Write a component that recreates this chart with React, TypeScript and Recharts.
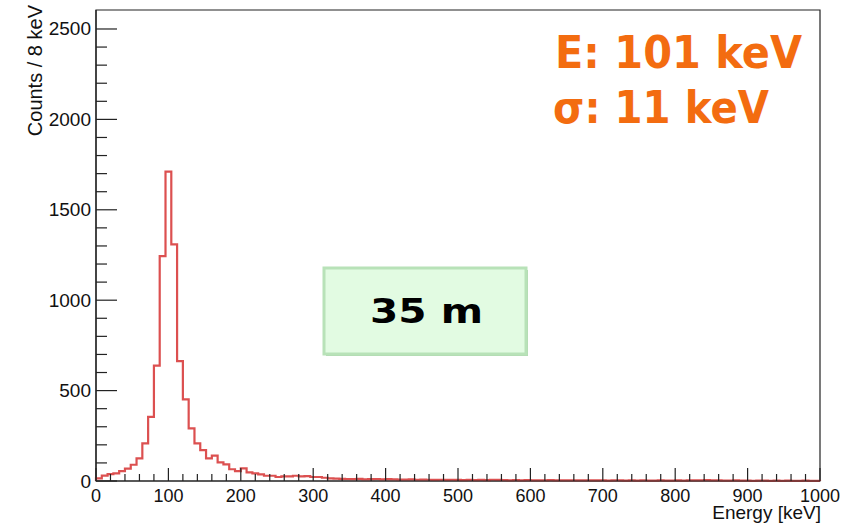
import { LineChart, Line, XAxis, YAxis, ReferenceArea } from "recharts";

// counts per 8 keV bin, 0..1000 keV (125 bins)
const counts: number[] = [
  15, 30, 38, 42, 55, 68, 90, 125, 208, 355,
  638, 1244, 1711, 1309, 663, 452, 291, 208, 171, 125,
  140, 103, 92, 65, 55, 70, 48, 42, 37, 29,
  29, 22, 26, 26, 29, 26, 27, 22, 22, 18,
  15, 13, 12, 11, 10, 12, 9, 10, 11, 9,
  10, 9, 8, 8, 9, 7, 8, 7, 6, 7,
  6, 7, 6, 5, 6, 5, 6, 5, 7, 6,
  5, 4, 5, 4, 5, 4, 3, 4, 5, 4,
  3, 4, 3, 4, 3, 3, 4, 3, 2, 3,
  3, 2, 3, 2, 3, 2, 2, 3, 2, 2,
  3, 2, 3, 4, 3, 5, 4, 3, 2, 2,
  3, 2, 2, 1, 2, 2, 1, 2, 1, 2,
  1, 1, 2, 1, 1,
];
const binWidth = 8;

const xTicks = [
  0, 20, 40, 60, 80, 100, 120, 140, 160, 180, 200, 220, 240, 260, 280, 300,
  320, 340, 360, 380, 400, 420, 440, 460, 480, 500, 520, 540, 560, 580, 600,
  620, 640, 660, 680, 700, 720, 740, 760, 780, 800, 820, 840, 860, 880, 900,
  920, 940, 960, 980, 1000,
];
const yTicks = [
  0, 100, 200, 300, 400, 500, 600, 700, 800, 900, 1000, 1100, 1200, 1300,
  1400, 1500, 1600, 1700, 1800, 1900, 2000, 2100, 2200, 2300, 2400, 2500,
];
const yMax = 2605;

const fitLines = ["E: 101 keV", "σ: 11 keV"];
const distanceLabel = "35 m";

// step-line points: rise from 0 at the first edge, drop to 0 at the last
const data = [
  { x: 0, y: 0 },
  ...counts.map((c, i) => ({ x: i * binWidth, y: c })),
  { x: counts.length * binWidth, y: counts[counts.length - 1] },
  { x: counts.length * binWidth, y: 0 },
];

const font = "'Liberation Sans', Arial, sans-serif";

function XTick(props: any) {
  const { x, y, payload } = props;
  const major = payload.value % 100 === 0;
  return (
    <g>
      <line x1={x} x2={x} y1={y} y2={y - (major ? 13 : 7)} stroke="#222" strokeWidth={1.2} />
      {major && (
        <text x={x} y={y + 21} textAnchor="middle" fontFamily={font} fontSize={18} fill="#111">
          {payload.value}
        </text>
      )}
    </g>
  );
}

function YTick(props: any) {
  const { x, y, payload } = props;
  const major = payload.value % 500 === 0;
  return (
    <g>
      <line x1={x} x2={x + (major ? 21 : 11)} y1={y} y2={y} stroke="#222" strokeWidth={1.2} />
      {major && (
        <text x={x - 5} y={y + 6.5} textAnchor="end" fontFamily={font} fontSize={19} fill="#111">
          {payload.value}
        </text>
      )}
    </g>
  );
}

export default function App() {
  return (
    <div style={{ position: "absolute", left: 0, top: 0, width: 864, height: 525, background: "#fff" }}>
      <LineChart
        width={864}
        height={525}
        data={data}
        margin={{ top: 10, right: 44, left: 0, bottom: 0 }}
      >
        <XAxis
          dataKey="x"
          type="number"
          domain={[0, 1000]}
          ticks={xTicks}
          interval={0}
          height={44}
          tickSize={0}
          tickMargin={0}
          tickLine={false}
          axisLine={{ stroke: "#222", strokeWidth: 1.2 }}
          tick={XTick}
        />
        <YAxis
          type="number"
          domain={[0, yMax]}
          ticks={yTicks}
          interval={0}
          width={96}
          tickSize={0}
          tickMargin={0}
          tickLine={false}
          axisLine={{ stroke: "#222", strokeWidth: 1.2 }}
          tick={YTick}
        />
        <ReferenceArea
          x1={0}
          x2={1000}
          y1={0}
          y2={yMax}
          fill="none"
          stroke="#222"
          strokeWidth={1.2}
          ifOverflow="visible"
        />
        <Line
          dataKey="y"
          type="stepAfter"
          stroke="#dc5050"
          strokeWidth={2.2}
          dot={false}
          isAnimationActive={false}
        />
      </LineChart>

      <svg
        width={864}
        height={525}
        style={{ position: "absolute", left: 0, top: 0, pointerEvents: "none" }}
      >
        <text
          transform="translate(42,5) rotate(-90)"
          textAnchor="end"
          fontFamily={font}
          fontSize={20}
          fill="#111"
        >
          Counts / 8 keV
        </text>
        <text x={821} y={519} textAnchor="end" fontFamily={font} fontSize={19} fill="#111">
          Energy [keV]
        </text>

        <text
          x={555}
          y={68}
          fontFamily="'DejaVu Sans', sans-serif"
          fontWeight="bold"
          fontSize={44}
          fill="#f36c10"
          textLength={247}
          lengthAdjust="spacingAndGlyphs"
        >
          {fitLines[0]}
        </text>
        <text
          x={553}
          y={123}
          fontFamily="'DejaVu Sans', sans-serif"
          fontWeight="bold"
          fontSize={44}
          fill="#f36c10"
          textLength={216}
          lengthAdjust="spacingAndGlyphs"
        >
          {fitLines[1]}
        </text>

        <rect x={326} y={270} width={202} height={86} fill="#b0d8b0" />
        <rect x={324} y={268} width={202} height={86} fill="#e2fbe2" stroke="#b8e2b8" strokeWidth={3} />
        <text
          x={370}
          y={323}
          fontFamily="'DejaVu Sans', sans-serif"
          fontWeight="bold"
          fontSize={34}
          fill="#000"
          textLength={113}
          lengthAdjust="spacingAndGlyphs"
        >
          {distanceLabel}
        </text>
      </svg>
    </div>
  );
}
